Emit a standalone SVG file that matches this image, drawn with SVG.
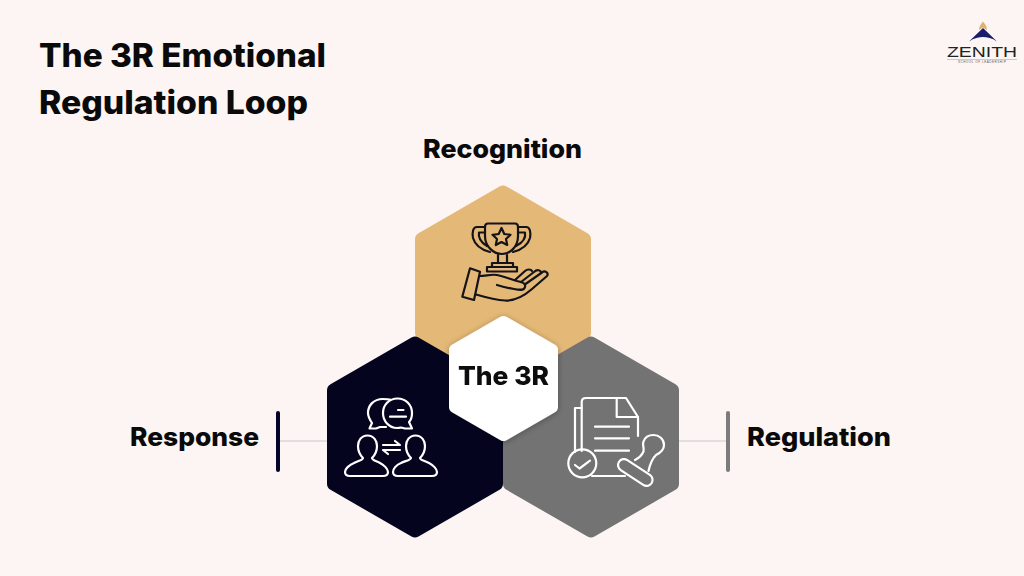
<svg xmlns="http://www.w3.org/2000/svg" width="1024" height="576" viewBox="0 0 1024 576">
<style>
text{font-family:"Inter","Liberation Sans",sans-serif;font-weight:800;fill:#0a0a0a}
.title{font-size:32px}
.label{font-size:26px}
.hex{stroke-width:14;stroke-linejoin:round}
.ib{fill:none;stroke:#15131a;stroke-width:2.200;stroke-linecap:round;stroke-linejoin:round}
.iw{fill:none;stroke:#fff;stroke-width:2.200;stroke-linecap:round;stroke-linejoin:round}
.link{stroke:#e2dfe3;stroke-width:2;fill:none}
</style>
<defs>
<filter id="sh" x="-20%" y="-20%" width="140%" height="140%"><feDropShadow dx="0" dy="1" stdDeviation="3" flood-color="#000" flood-opacity=".3"/></filter>
</defs>
<rect width="1024" height="576" fill="#fcf5f3"/>
<g id="title"><text class="title" x="39" y="67" textLength="287" lengthAdjust="spacingAndGlyphs">The 3R Emotional</text>
<text class="title" x="39" y="114" textLength="269" lengthAdjust="spacingAndGlyphs">Regulation Loop</text></g>
<g id="logo">
<path d="M983 21.500C980 25 979 27 979 30L983 27.500L987 30C987 27 986 25 983 21.500Z" fill="#e0b26f"/>
<path d="M983 28L969 41.500C974 38 979 37 983 37C987 37 992 38 997 41.500Z" fill="#1b1f6b"/>
<text x="947" y="57" font-size="14.500" textLength="70" lengthAdjust="spacingAndGlyphs" style="font-family:'Liberation Sans',sans-serif;font-weight:400;fill:#222">ZENITH</text>
<path d="M947 59.500H1017" stroke="#b9b6b4" stroke-width=".7"/>
<text x="958" y="62.800" font-size="3" textLength="48" style="font-family:'Liberation Sans',sans-serif;font-weight:400;fill:#555">SCHOOL OF LEADERSHIP</text>
</g>
<g id="connectors">
<path class="link" d="M279 441H327"/>
<path class="link" d="M679 441H727"/>
<path d="M278 413V470" stroke="#05052a" stroke-width="4" stroke-linecap="round"/>
<path d="M728 413V470" stroke="#7b7b7b" stroke-width="4" stroke-linecap="round"/>
</g>
<g id="recognition">
<polygon class="hex" points="503,192.500 584,239.250 584,332.750 503,379.500 422,332.750 422,239.250" fill="#e4b977" stroke="#e4b977"/>
<g class="ib">
<path d="M488 223.500H515C517 223.500 518 225 518 227V236C518 247 510 254 502 254C494 254 485 247 485 236V227C485 225 486 223.500 488 223.500Z"/>
<path d="M485 227H477C473 227 472 232 473 238C475 245 482 250 490 252"/>
<path d="M485 232.500H479C478 238 482 243 487 246"/>
<path d="M518 227H526C530 227 531 232 530 238C528 245 521 250 513 252"/>
<path d="M518 232.500H525C526 238 522 243 516 246"/>
<path d="M501.500 228L504.300 234L510.500 234.800L506 239L507.200 245L501.500 242L495.800 245L497 239L492.500 234.800L498.700 234Z"/>
<path d="M498 255V263M507 255V263M492 263H513V267M492 263V267M487 267H517V271.500H487Z"/>
<path d="M470 268.300L480 271.700L474 300L462.300 296.700Z"/>
<path d="M479.500 276C486 276 491 274 497 275C503 276 510 279 517 281C522 282 526 283 525 287C524 291 519 290 514 289C508 288 503 287 497 285"/>
<path d="M515 280L525 271C527 269 531 269 532 271"/>
<path d="M521 282L534 272C537 269 541 270 541 273"/>
<path d="M525.500 284L542 272.500C545 270 549 273 547 276L532 289C524 296 515 301 505 300.500C495 300 488 298 476 294.500"/>
</g>
</g>
<g id="response">
<polygon class="hex" points="415,343.500 496,390.250 496,483.750 415,530.500 334,483.750 334,390.250" fill="#04041f" stroke="#04041f"/>
<g class="iw">
<path d="M390 399.500C388 399 386 399 383 399C373 399 368 406 368 413C368 417 370 420 372 423L369.500 428.500H376L380 427H386"/>
<path d="M397.500 398.500C406 398.500 412 405 412 413C412 417 411 420 409 422L412 428.500H405L401 427.500C399 428 398 428 397 428C389 428 383 421 383 413C383 405 389 398.500 397.500 398.500Z"/>
<path d="M398 410H403.500M390 416.700H406"/>
<path d="M383 445H400L395 441M400 450H383L388 454"/>
<path d="M367.500 435.500C361 435.500 358 441 358 446C358 451 360 455 363 458C363 460 358 461 354 463C349 465 345 469 345 472C345 475 347 476 350 476H383C386 476 388 475 388 472C388 469 384 465 380 463C376 461 372 460 372 458C375 455 377 451 377 446C377 441 374 435.500 367.500 435.500Z"/>
<path d="M415.500 435.500C409 435.500 406 441 406 446C406 451 408 455 411 458C411 460 405 461 401 463C396 465 393 469 393 472C393 475 395 476 398 476H432C435 476 437 475 437 472C437 469 433 465 429 463C425 461 420 460 420 458C423 455 425 451 425 446C425 441 422 435.500 415.500 435.500Z"/>
</g>
</g>
<g id="regulation">
<polygon class="hex" points="591,343.500 672,390.250 672,483.750 591,530.500 510,483.750 510,390.250" fill="#737373" stroke="#737373"/>
<g class="iw">
<path d="M581.700 451V402C581.700 399.500 583 398 586 398H626L638 417V436"/>
<path d="M581.700 408H575V452"/>
<path d="M616.700 398V417H638"/>
<path d="M595 426.700H629M595 438.300H629M595 450.700H629"/>
<circle cx="582.300" cy="463.300" r="14"/>
<path d="M575 465L579.500 468.500L590 460.700"/>
<path d="M592 476H625"/>
<rect x="615.800" y="466.500" width="39" height="12" rx="6" transform="rotate(33.500 635.300 472.500)"/>
<path d="M635 460C639 458 642 455 643.500 451.500C644.500 448 642 445 643.500 441.500C645 437 649 435 653.500 435C659 435 664 439 664 445C664 450 660 453 656 455C653 458 650 464 648.500 471"/>
</g>
</g>
<g id="center" filter="url(#sh)">
<polygon class="hex" points="503.500,322 552,350 552,407 503.500,435 455,407 455,350" fill="#fff" stroke="#fff" style="stroke-width:12"/>
<text class="label" x="503.500" y="385" text-anchor="middle" textLength="91" lengthAdjust="spacingAndGlyphs">The 3R</text>
</g>
<text class="label" x="423" y="158" textLength="159" lengthAdjust="spacingAndGlyphs">Recognition</text>
<text class="label" x="130" y="446" textLength="129" lengthAdjust="spacingAndGlyphs">Response</text>
<text class="label" x="747" y="446" textLength="144" lengthAdjust="spacingAndGlyphs">Regulation</text>
</svg>
